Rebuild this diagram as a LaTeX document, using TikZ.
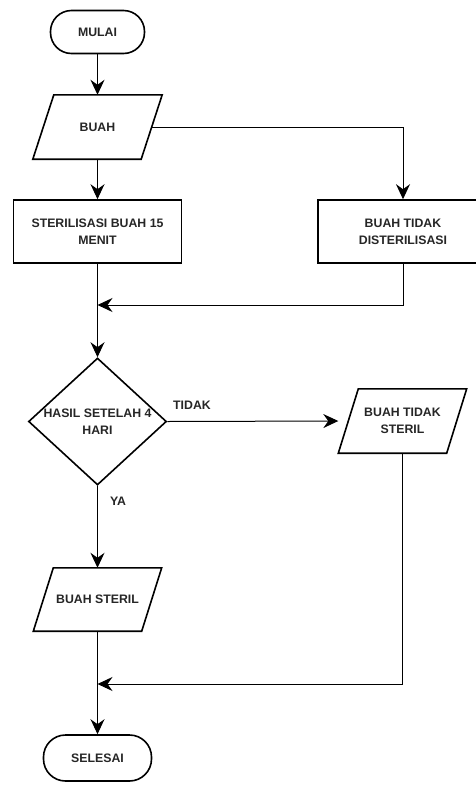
\documentclass[tikz,border=0pt]{standalone}
\usepackage{fontspec}
\setmainfont{Liberation Sans}
\usetikzlibrary{shapes.geometric,arrows.meta}
\tikzset{
  txt/.style={font=\fontsize{12.3}{17}\selectfont\bfseries, text=black!85, align=center},
  term/.style={txt, draw, line width=1.6pt, rounded corners=21pt, minimum width=94pt, minimum height=43pt, inner sep=0pt},
  proc/.style={txt, draw, line width=1.6pt, minimum width=168pt, minimum height=63pt, inner sep=0pt},
  iobox/.style={txt, minimum width=108pt, minimum height=64pt, inner sep=0pt},
  dec/.style={diamond, draw, line width=1.6pt, minimum width=138pt, minimum height=127pt, inner sep=0pt},
  conn/.style={line width=1pt},
  arr/.style={conn, -{Stealth[length=15pt,width=14pt,inset=5pt]}},
  lbl/.style={txt, inner sep=0pt},
}
\newcommand{\paraoutline}[2]{\draw[line width=1.6pt,line join=miter] ([xshift=#2]#1.north west) -- ([xshift=#2]#1.north east) -- ([xshift=-#2]#1.south east) -- ([xshift=-#2]#1.south west) -- cycle;}
\begin{document}
\begin{tikzpicture}[x=1pt,y=1pt]
\useasboundingbox (0,0) rectangle (475,-785);
% nodes
\node[term] (mulai) at (97.5,-32) {MULAI};
\node[iobox] (buah) at (97.5,-127) {BUAH};
\paraoutline{buah}{10.5pt}
\node[proc] (steril) at (97.5,-231.5) {STERILISASI BUAH 15\\MENIT};
\node[proc, minimum width=170pt] (tidak) at (403,-231.5) {BUAH TIDAK\\DISTERILISASI};
\node[dec] (hasil) at (97.5,-421.5) {};
\node[txt, inner sep=0pt] (hasiltxt) at (hasil.center) {HASIL SETELAH 4\\HARI};
\node[iobox] (tsteril) at (402.5,-421) {BUAH TIDAK\\STERIL};
\paraoutline{tsteril}{10pt}
\node[iobox, minimum height=63pt] (bsteril) at (97.5,-599.5) {BUAH STERIL};
\paraoutline{bsteril}{10pt}
\node[term, minimum width=108pt, minimum height=46pt, rounded corners=22pt] (selesai) at (97.5,-758) {SELESAI};
\node[lbl] (ltidak) at (192,-405) {TIDAK};
\node[lbl] (lya) at (118,-501) {YA};
% junctions
\coordinate (m1) at (97.5,-305);
\coordinate (m1r) at (403,-305);
\coordinate (m2) at (97.5,-684);
\coordinate (m2r) at (402.5,-684);
\coordinate (br) at (403,-127);
% connectors
\draw[arr] (mulai) -- (buah);
\draw[arr] (buah) -- (steril);
\draw[arr] (buah.east) -- (br) -- (tidak.north);
\draw[conn] (steril.south) -- (m1);
\draw[arr] (m1) -- (hasil.north);
\draw[arr] (tidak.south) -- (m1r) -- (m1);
\draw[arr] (hasil.east) -- ([xshift=-10pt]tsteril.west);
\draw[arr] (hasil.south) -- (bsteril.north);
\draw[conn] (bsteril.south) -- (m2);
\draw[arr] (m2) -- (selesai.north);
\draw[arr] (tsteril.south) -- (m2r) -- (m2);
\end{tikzpicture}
\end{document}
